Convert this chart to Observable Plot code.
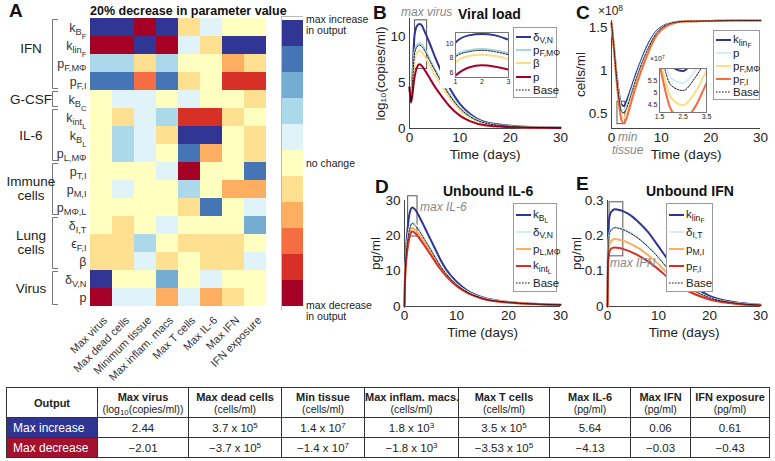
<!DOCTYPE html>
<html><head><meta charset="utf-8">
<script src="https://cdn.jsdelivr.net/npm/d3@7"></script>
<script src="https://cdn.jsdelivr.net/npm/@observablehq/plot@0.6"></script>
<style>
body{margin:0;width:775px;height:461px;position:relative;font-family:Arial,"Liberation Sans",Helvetica,sans-serif;background:#fff;overflow:hidden;color:#222}
.abs{position:absolute;white-space:nowrap}
.plab{font-weight:bold;font-size:19px;color:#111}
.ttl{font-weight:bold;font-size:14px;color:#111}
.note{font-style:italic;color:#888;font-size:12px}
.legend{position:absolute;border:1px solid #9a9a9a;background:#fff;font-size:11.5px;box-sizing:border-box;padding:2px 2px 0 2px}
.legend .row{display:flex;align-items:center;height:13.6px}
.legend .sw{width:15px;margin-right:2px;flex:none}
sub{font-size:75%;vertical-align:-0.28em;line-height:0}
sup{font-size:70%;vertical-align:0.45em;line-height:0}
table.t{position:absolute;left:6px;top:387px;width:764px;border-collapse:collapse;font-size:11.5px;table-layout:fixed}
table.t td{border:1px solid #333;text-align:center;padding:0;height:19px;line-height:12px;white-space:nowrap;overflow:hidden}
table.t tr.h td{height:29px;font-size:10.5px}
table.t tr.h b{font-size:11px}
table.t td.lab{text-align:left;padding-left:6px;color:#fff;font-size:12px}
</style></head><body>
<script>
// ---------------- DATA ----------------
const outputs = ["Max virus","Max dead cells","Minimum tissue","Max inflam. macs","Max T cells","Max IL-6","Max IFN","IFN exposure"];
const params = ["k_B_F","k_lin_F","p_F,MΦ","p_F,I","k_B_C","k_int_L","k_B_L","p_L,MΦ","p_T,I","p_M,I","p_MΦ,L","δ_I,T","ϵ_F,I","β","δ_V,N","p"];
// sensitivity level: +5 max increase ... -5 max decrease
const levels = [
  [ 5, 5,-5, 5,-1, 1, 0, 0],
  [-5,-5, 5,-5, 1,-1, 5, 5],
  [ 2, 2,-1, 2, 0, 0,-2,-1],
  [ 4, 4,-3, 4,-1, 0,-4,-4],
  [ 0, 1, 1, 0, 1, 0, 0,-1],
  [ 0,-1, 1, 2,-4,-4,-1, 0],
  [ 0, 2, 1,-1, 5, 5, 0,-1],
  [ 0, 2, 1, 0, 4,-2, 0,-1],
  [ 0, 0, 0, 1,-5, 0, 0, 4],
  [ 0, 1, 0, 0, 2, 0,-2,-2],
  [ 0, 0, 0, 0,-1, 4, 0, 1],
  [ 0,-1, 0, 1, 0, 0, 0, 3],
  [-1,-1, 2, 0,-1,-1,-1, 0],
  [-1,-1, 1,-1, 0,-1,-1, 1],
  [ 5, 0, 0, 3, 0, 1, 0, 0],
  [-5, 1, 1,-2, 1,-2,-1, 0]
];
const groupNames = ["IFN","G-CSF","IL-6","Immune\ncells","Lung\ncells","Virus"];
const groupFirst = [0,4,5,8,11,14];
const groupLast  = [3,4,7,10,13,15];
const colorLevels = [5,4,3,2,1,0,-1,-2,-3,-4,-5];
const palette = ["#313695","#4575b4","#74add1","#abd9e9","#e0f3f8","#ffffbf","#fee090","#fdae61","#f46d43","#d73027","#a50026"];

// B: viral load (log10 copies/ml)
const bTime   = [0, 0.3, 1, 1.5, 2, 2.5, 3, 4, 5, 6, 8, 10, 12, 15, 20, 25, 30];
const bDeltaVN= [4.5, 3.0, 10.2, 11.2, 11.4, 11.2, 10.6, 9.3, 7.9, 6.6, 4.4, 2.7, 1.6, 0.7, 0.3, 0.15, 0.1];
const bPFMPhi = [4.5, 3.0, 8.4, 9.1, 9.3, 9.1, 8.7, 7.6, 6.5, 5.5, 3.7, 2.3, 1.4, 0.6, 0.25, 0.12, 0.08];
const bBase   = [4.5, 3.0, 8.2, 8.9, 9.1, 8.9, 8.5, 7.4, 6.4, 5.4, 3.6, 2.2, 1.3, 0.6, 0.25, 0.12, 0.08];
const bBeta   = [4.5, 3.0, 7.4, 8.3, 8.5, 8.3, 7.9, 6.9, 5.9, 5.0, 3.3, 2.0, 1.2, 0.5, 0.2, 0.1, 0.07];
const bP      = [4.5, 2.8, 5.6, 6.7, 7.0, 6.8, 6.4, 5.5, 4.6, 3.8, 2.4, 1.4, 0.8, 0.35, 0.15, 0.08, 0.05];
const bSeriesNames = ["δ_V,N","p_F,MΦ","β","p","Base"];

// C: tissue (x1e8 cells/ml)
const cTime   = [0, 0.5, 1, 1.5, 2, 2.5, 3, 3.5, 4, 5, 6, 7, 8, 9, 10, 12, 15, 20, 25, 30];
const cKlinF  = [1.55, 1.27, 0.97, 0.74, 0.61, 0.59, 0.64, 0.72, 0.80, 0.97, 1.12, 1.26, 1.37, 1.45, 1.50, 1.55, 1.57, 1.575, 1.58, 1.58];
const cP      = [1.55, 1.26, 0.95, 0.71, 0.56, 0.54, 0.59, 0.67, 0.76, 0.93, 1.09, 1.23, 1.35, 1.44, 1.49, 1.55, 1.57, 1.575, 1.58, 1.58];
const cBase   = [1.55, 1.26, 0.94, 0.69, 0.53, 0.51, 0.56, 0.64, 0.73, 0.91, 1.07, 1.21, 1.33, 1.43, 1.49, 1.55, 1.57, 1.575, 1.58, 1.58];
const cPFMPhi = [1.55, 1.25, 0.92, 0.65, 0.48, 0.45, 0.50, 0.59, 0.68, 0.87, 1.03, 1.18, 1.31, 1.41, 1.48, 1.54, 1.57, 1.575, 1.58, 1.58];
const cPFI    = [1.55, 1.24, 0.90, 0.62, 0.43, 0.39, 0.44, 0.54, 0.64, 0.83, 1.00, 1.15, 1.29, 1.40, 1.47, 1.54, 1.57, 1.575, 1.58, 1.58];
const cSeriesNames = ["k_lin_F","p","p_F,MΦ","p_F,I","Base"];

// D: unbound IL-6 (pg/ml)
const dTime   = [0, 0.1, 0.3, 0.6, 1, 1.5, 2, 3, 4, 5, 6, 7, 8, 10, 12, 15, 20, 25, 30];
const dKBL    = [0, 9, 16, 22, 26.5, 28, 27.5, 25, 22, 19, 16, 13, 10.5, 7, 4.6, 2.6, 1.3, 0.8, 0.5];
const dDeltaVN= [0, 8, 14, 19, 22.5, 24, 23.5, 21.5, 19, 16.5, 14, 11.5, 9.5, 6.3, 4.2, 2.4, 1.2, 0.75, 0.5];
const dBase   = [0, 8, 14, 18.5, 22, 23.5, 23, 21, 18.6, 16.2, 13.7, 11.3, 9.3, 6.2, 4.1, 2.3, 1.2, 0.7, 0.5];
const dPLMPhi = [0, 7.5, 13, 17.5, 20.8, 22.2, 21.8, 20, 17.7, 15.4, 13, 10.8, 8.9, 6.0, 4.0, 2.3, 1.2, 0.7, 0.5];
const dKintL  = [0, 7, 12.5, 16.5, 19.8, 21.2, 20.8, 19, 16.9, 14.7, 12.5, 10.4, 8.6, 5.8, 3.9, 2.2, 1.1, 0.7, 0.45];
const dSeriesNames = ["k_B_L","δ_V,N","p_L,MΦ","k_int_L","Base"];

// E: unbound IFN (pg/ml)
const eTime   = [0, 0.1, 0.3, 0.6, 1, 1.5, 2, 3, 4, 5, 6, 8, 10, 12, 15, 20, 25, 30];
const eKlinF  = [0, 0.18, 0.245, 0.265, 0.272, 0.275, 0.274, 0.27, 0.263, 0.253, 0.24, 0.21, 0.17, 0.13, 0.08, 0.03, 0.012, 0.005];
const eDeltaIT= [0, 0.15, 0.2, 0.215, 0.221, 0.224, 0.223, 0.22, 0.213, 0.205, 0.195, 0.17, 0.14, 0.105, 0.065, 0.025, 0.01, 0.004];
const eBase   = [0, 0.15, 0.199, 0.214, 0.22, 0.223, 0.222, 0.218, 0.211, 0.203, 0.193, 0.168, 0.138, 0.104, 0.064, 0.025, 0.01, 0.004];
const ePMI    = [0, 0.13, 0.17, 0.183, 0.189, 0.191, 0.19, 0.187, 0.181, 0.174, 0.166, 0.145, 0.12, 0.09, 0.056, 0.022, 0.009, 0.004];
const ePFI    = [0, 0.11, 0.15, 0.162, 0.166, 0.167, 0.166, 0.163, 0.158, 0.152, 0.145, 0.127, 0.105, 0.08, 0.05, 0.02, 0.008, 0.003];
const eSeriesNames = ["k_lin_F","δ_I,T","p_M,I","p_F,I","Base"];

// Table
const tableHeads = ["Output","Max virus","Max dead cells","Min tissue","Max inflam. macs.","Max T cells","Max IL-6","Max IFN","IFN exposure"];
const tableUnits = ["","(log_10(copies/ml))","(cells/ml)","(cells/ml)","(cells/ml)","(cells/ml)","(pg/ml)","(pg/ml)","(pg/ml)"];
const incVals = ["2.44","3.7 x 10^5","1.4 x 10^7","1.8 x 10^3","3.5 x 10^5","5.64","0.06","0.61"];
const decVals = ["−2.01","−3.7 x 10^5","−1.4 x 10^7","−1.8 x 10^3","−3.53 x 10^5","−4.13","−0.03","−0.43"];
</script>
<script>
const SVGNS = "http://www.w3.org/2000/svg";
const FONT = 'Arial, "Liberation Sans", Helvetica, sans-serif';
const BLUE = "#2e3592", LBLUE = "#a6d5e8", CYAN = "#d4eef5", YEL = "#fedd8a", ORG = "#fdae61", RORG = "#f46d43", RED = "#d73027", DRED = "#a50026";
const fmt = d3.format("~g");

function place(el, left, top){ el.style.position="absolute"; el.style.left=left+"px"; el.style.top=top+"px"; document.body.appendChild(el); return el; }
function div(cls, html, left, top, extra){ const d=document.createElement("div"); d.className="abs "+(cls||""); d.innerHTML=html; if(extra) Object.assign(d.style, extra); return place(d,left,top); }
function htmlLabel(l){ const p=l.split("_"); let s=p[0]; if(p[1]!==undefined){ s+="<sub>"+p[1]+(p[2]!==undefined?"<sub>"+p[2]+"</sub>":"")+"</sub>"; } return s; }
function supText(s){ return s.replace(/\^(\d+)/g,"<sup>$1</sup>"); }
function richSVG(textEl, label, size){
  const parts = label.split("_");
  while(textEl.firstChild) textEl.removeChild(textEl.firstChild);
  let prev=0;
  parts.forEach((s,i)=>{
    const ts=document.createElementNS(SVGNS,"tspan");
    const fs = i===0?size:(i===1?size*0.74:size*0.62);
    const sh = i===0?0:(i===1?size*0.3:size*0.62);
    ts.setAttribute("font-size",fs);
    if(sh-prev) ts.setAttribute("dy",sh-prev);
    prev=sh; ts.textContent=s; textEl.appendChild(ts);
  });
}

// ---------------- A: heatmap ----------------
const cells=[];
params.forEach((p,i)=>outputs.forEach((o,j)=>cells.push({param:p,output:o,v:levels[i][j]})));
const heat = Plot.plot({
  width:270, height:384, marginLeft:88, marginTop:18, marginRight:3, marginBottom:78,
  style:{fontFamily:FONT, color:"#333", background:"transparent"},
  x:{domain:outputs, padding:0, label:null},
  y:{domain:params, padding:0, label:null},
  color:{type:"ordinal", domain:colorLevels, range:palette},
  marks:[
    Plot.cell(cells,{x:"output",y:"param",fill:"v",inset:0}),
    Plot.axisX({tickRotate:-45, tickSize:0, tickPadding:12, fontSize:11, label:null, dx:4}),
    Plot.axisY({tickSize:0, tickPadding:2, fontSize:12.5, label:null})
  ]
});
place(heat,0,0);
{
  const pset=new Set(params);
  heat.querySelectorAll("text").forEach(t=>{ if(pset.has(t.textContent)) richSVG(t,t.textContent,12.5); });
  const ys=heat.scale("y"); const bw=ys.bandwidth;
  const g=d3.select(heat).append("g").attr("stroke","#777").attr("fill","none").attr("stroke-width",1);
  const lab=d3.select(heat).append("g").attr("font-size",13.5).attr("fill","#222").attr("text-anchor","middle");
  groupNames.forEach((n,k)=>{
    const y0=ys.apply(params[groupFirst[k]])+1.5, y1=ys.apply(params[groupLast[k]])+bw-1.5;
    g.append("path").attr("d",`M58,${y0}H52.5V${y1}H58`);
    const lines=n.split("\n"); const yc=(y0+y1)/2 - (k===0?6:0);
    const t=lab.append("text").attr("x",31).attr("y",yc-(lines.length-1)*7.5);
    lines.forEach((s,i)=>t.append("tspan").attr("x",31).attr("dy",i? "1.05em":"0.35em").text(s));
  });
}
div("plab","A",9,0);
div("","20% decrease in parameter value",90,4,{fontWeight:"bold",fontSize:"12.5px",color:"#111"});

// colorbar
const cbar = Plot.plot({
  width:22, height:294, margin:0, style:{background:"transparent"},
  y:{domain:colorLevels, padding:0, axis:null},
  color:{type:"ordinal", domain:colorLevels, range:palette},
  marks:[Plot.cell(colorLevels,{y:d=>d, fill:d=>d, inset:0}), Plot.frame({stroke:"#bbb"})]
});
place(cbar,281,16);
div("","max increase<br>in output",306,14,{fontSize:"10.5px",lineHeight:"11px",color:"#222"});
div("","no change",306,157,{fontSize:"10.5px",color:"#222"});
div("","max decrease<br>in output",306,300,{fontSize:"10.5px",lineHeight:"11px",color:"#222"});

// ---------------- line panels ----------------
function buildRows(time, arrs, names){ const rows=[]; arrs.forEach((a,k)=>a.forEach((v,i)=>rows.push({t:time[i],v,s:names[k]}))); return rows; }
function linePlot(o){
  const rows=buildRows(o.time,o.arrs,o.names);
  const marks=[];
  marks.push(Plot.ruleX([o.xDomain[0]],{stroke:"#444"}));
  marks.push(Plot.ruleY([o.yDomain[0]],{stroke:"#444"}));
  if(o.box) marks.push(Plot.rect([o.box],{x1:"x1",x2:"x2",y1:"y1",y2:"y2",fill:"none",stroke:"#555",strokeWidth:1}));
  o.names.forEach((n,k)=>{
    if(n==="Base") return;
    marks.push(Plot.line(rows.filter(r=>r.s===n),{x:"t",y:"v",stroke:o.colors[k],strokeWidth:2,curve:"monotone-x"}));
  });
  marks.push(Plot.line(rows.filter(r=>r.s==="Base"),{x:"t",y:"v",stroke:"#111",strokeWidth:1,strokeDasharray:"1.6,1.4",curve:"monotone-x"}));
  const yf = o.yFormat || fmt;
  if(!o.inset){
    marks.push(Plot.axisX({ticks:o.xTicks, tickFormat:fmt, tickSize:0, tickPadding:4, fontSize:13.5, label:"Time (days)", labelAnchor:"center", labelOffset:30, labelArrow:"none"}));
    marks.push(Plot.axisY({ticks:o.yTicks, tickSize:0, tickPadding:4, fontSize:13.5, tickFormat:yf, label:o.yLabel, labelAnchor:"center", labelOffset:o.yLabelOffset, labelArrow:"none"}));
  } else {
    marks.push(Plot.axisX({ticks:o.xTicks, tickFormat:fmt, tickSize:0, tickPadding:2, fontSize:7, label:null}));
    marks.push(Plot.axisY({ticks:o.yTicks, tickSize:0, tickPadding:2, fontSize:7, label:null, tickFormat:yf}));
    marks.push(Plot.frame({stroke:"#777"}));
  }
  return Plot.plot({
    width:o.w, height:o.h, marginLeft:o.ml, marginRight:o.mr, marginTop:o.mt, marginBottom:o.mb,
    style:{fontFamily:FONT, color:"#222", background:o.inset?"#fff":"transparent", overflow:"visible"},
    x:{domain:o.xDomain}, y:{domain:o.yDomain}, clip:o.inset?true:undefined,
    marks
  });
}
function legend(left, top, w, h, names, colors){
  const d=document.createElement("div"); d.className="legend";
  d.style.width=w+"px"; d.style.height=h+"px";
  const rh=(h-4)/names.length;
  d.innerHTML=names.map((n,k)=>{
    const base=n==="Base";
    const line = base? `<line x1="0" y1="4" x2="15" y2="4" stroke="#111" stroke-width="1" stroke-dasharray="1.6,1.4"/>` : `<line x1="0" y1="4" x2="15" y2="4" stroke="${colors[k]}" stroke-width="2"/>`;
    return `<div class="row" style="height:${rh}px"><svg class="sw" width="15" height="8">${line}</svg><span>${htmlLabel(n)}</span></div>`;
  }).join("");
  place(d,left,top);
}

// B
const bColors=[BLUE,LBLUE,YEL,DRED,"#111"];
place(linePlot({time:bTime, arrs:[bDeltaVN,bPFMPhi,bBeta,bP,bBase], names:bSeriesNames, colors:bColors,
  xDomain:[0,30], yDomain:[0,12], xTicks:[0,10,20,30], yTicks:[0,5,10], yLabel:"log₁₀(copies/ml)", yLabelOffset:34,
  box:{x1:1.1,x2:3.5,y1:6.5,y2:11.8}, w:230,h:165, ml:69, mr:10, mt:18, mb:37}),340,0);
place(linePlot({inset:true, time:bTime, arrs:[bDeltaVN,bPFMPhi,bBeta,bP,bBase], names:bSeriesNames, colors:bColors,
  xDomain:[1,3], yDomain:[5.3,11.6], xTicks:[1,2,3], yTicks:[6,8,10], w:72,h:62, ml:15, mr:4, mt:6, mb:11}),440,26);
legend(513,27,44,71,bSeriesNames,bColors);
div("plab","B",373,2);
div("ttl","Viral load",458,6);
div("note","max virus",401,5);

// C
const cColors=[BLUE,CYAN,YEL,RORG,"#111"];
place(linePlot({time:cTime, arrs:[cKlinF,cP,cPFMPhi,cPFI,cBase], names:cSeriesNames, colors:cColors,
  xDomain:[0,30], yDomain:[0.33,1.58], xTicks:[0,10,20,30], yTicks:[0.5,1,1.5], yLabel:"cells/ml", yLabelOffset:36,
  box:{x1:1.2,x2:2.8,y1:0.38,y2:0.64}, w:225,h:165, ml:66, mr:10, mt:20, mb:37}),545,0);
place(linePlot({inset:true, time:cTime, arrs:[cKlinF,cP,cPFMPhi,cPFI,cBase], names:cSeriesNames, colors:cColors,
  xDomain:[1.5,3.5], yDomain:[0.42,0.6], xTicks:[1.5,2.5,3.5], yTicks:[0.45,0.5,0.55], yFormat:d=>fmt(Math.round(d*100)/10), w:64,h:61, ml:12, mr:5, mt:6, mb:11}),647,62);
legend(713,30,47,70,cSeriesNames,cColors);
div("plab","C",576,2);
div("","×10<sup>8</sup>",598,4,{fontSize:"12px"});
div("","×10<sup>7</sup>",650,55,{fontSize:"7px"});
div("note","min<br>tissue",612,131,{lineHeight:"13px",textAlign:"center"});

// D
const dColors=[BLUE,CYAN,ORG,RED,"#111"];
place(linePlot({time:dTime, arrs:[dKBL,dDeltaVN,dPLMPhi,dKintL,dBase], names:dSeriesNames, colors:dColors,
  xDomain:[0,30], yDomain:[0,30], xTicks:[0,10,20,30], yTicks:[0,10,20,30], yLabel:"pg/ml", yLabelOffset:34,
  box:{x1:0.7,x2:2.5,y1:19.8,y2:31.2}, w:230,h:148, ml:64, mr:10, mt:10, mb:32}),340,190);
legend(513,203,44,89,dSeriesNames,dColors);
div("plab","D",375,176);
div("ttl","Unbound IL-6",443,183);
div("note","max IL-6",420,200);

// E
const eColors=[BLUE,CYAN,ORG,RED,"#111"];
place(linePlot({time:eTime, arrs:[eKlinF,eDeltaIT,ePMI,ePFI,eBase], names:eSeriesNames, colors:eColors,
  xDomain:[0,30], yDomain:[0,0.3], xTicks:[0,10,20,30], yTicks:[0,0.1,0.2,0.3], yLabel:"pg/ml", yLabelOffset:36,
  box:{x1:0.4,x2:3.1,y1:0.142,y2:0.295}, w:225,h:148, ml:62, mr:10, mt:10, mb:32}),545,190);
legend(666,203,47,89,eSeriesNames,eColors);
div("plab","E",576,173);
div("ttl","Unbound IFN",646,183);
div("note","max IFN",610,256);

// ---------------- table ----------------
{
  const widths=[91,91,93,83,94,91,81,60,79];
  const tb=document.createElement("table"); tb.className="t";
  let html="<colgroup>"+widths.map(w=>`<col style="width:${w}px">`).join("")+"</colgroup>";
  html+=`<tr class="h">`+tableHeads.map((h,i)=>`<td><b>${h}</b>${tableUnits[i]?"<br>"+tableUnits[i].replace("log_10","log<sub>10</sub>"):""}</td>`).join("")+"</tr>";
  html+=`<tr><td class="lab" style="background:#2e3592">Max increase</td>`+incVals.map(v=>`<td>${supText(v)}</td>`).join("")+"</tr>";
  html+=`<tr><td class="lab" style="background:#a3112e">Max decrease</td>`+decVals.map(v=>`<td>${supText(v)}</td>`).join("")+"</tr>";
  tb.innerHTML=html; document.body.appendChild(tb);
}
</script>
</body></html>
